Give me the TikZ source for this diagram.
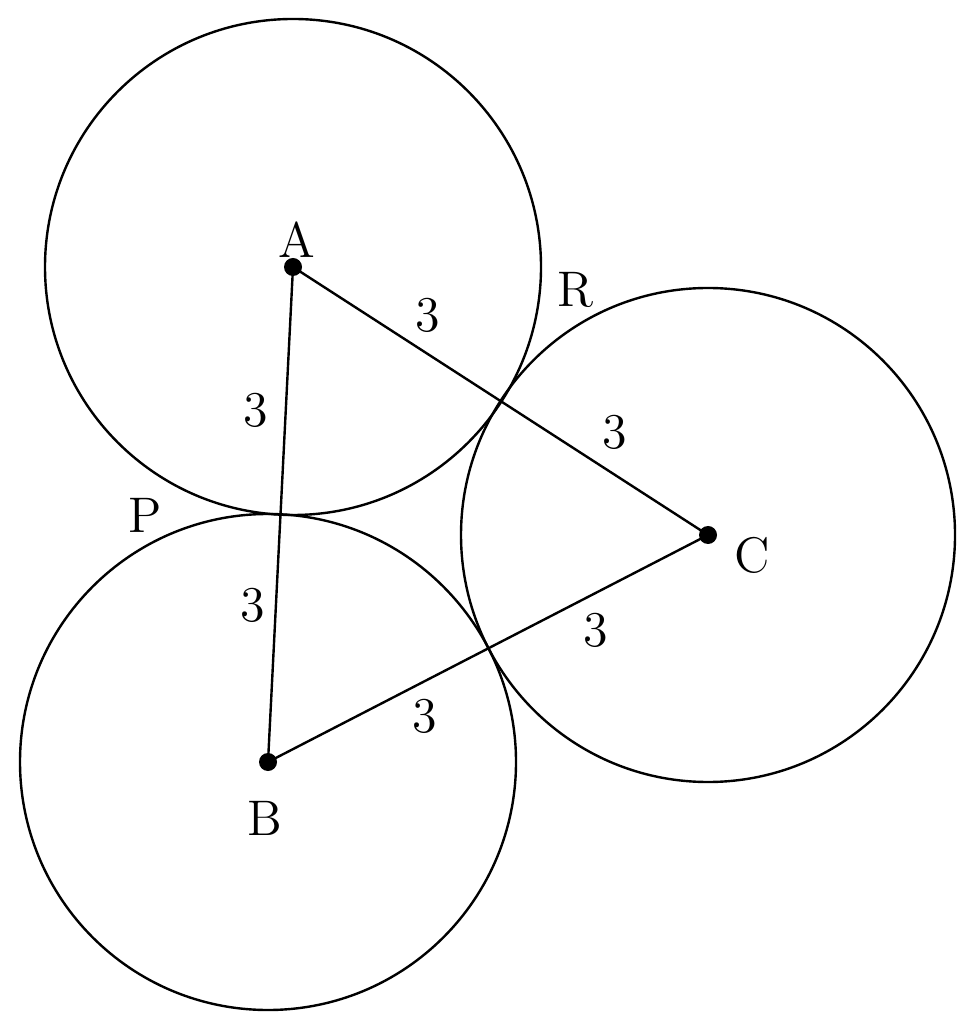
\documentclass[tikz,border=0pt]{standalone}
\usepackage{tikz}

\begin{document}
\begin{tikzpicture}[x=0.25pt,y=-0.25pt,line width=0.6pt,
  lbl/.style={inner sep=0pt,font=\fontsize{12.5}{15}\selectfont}]
\useasboundingbox (0,0) rectangle (978,1024);
%centres
\coordinate (A) at (293,267);
\coordinate (B) at (268,762);
\coordinate (C) at (708,535);
%circles
\draw (A) circle (248);
\draw (B) circle (248);
\draw (C) circle (247);
%triangle
\draw (A) -- (B) -- (C) -- cycle;
\fill (A) circle (9);
\fill (B) circle (9);
\fill (C) circle (9);

% Text Node
\node[lbl] (la) at (297,240) {A};
\node[lbl] (lb) at (265,818) {B};
\node[lbl] (lc) at (752,555) {C};
\node[lbl] (lp) at (145,515) {P};
\node[lbl] (lr) at (576,290) {R};
\node[lbl] (s1) at (428,315) {3};
\node[lbl] (s2) at (615,432) {3};
\node[lbl] (s3) at (256,410) {3};
\node[lbl] (s4) at (253,605) {3};
\node[lbl] (s5) at (596,630) {3};
\node[lbl] (s6) at (425,716) {3};
\end{tikzpicture}
\end{document}
